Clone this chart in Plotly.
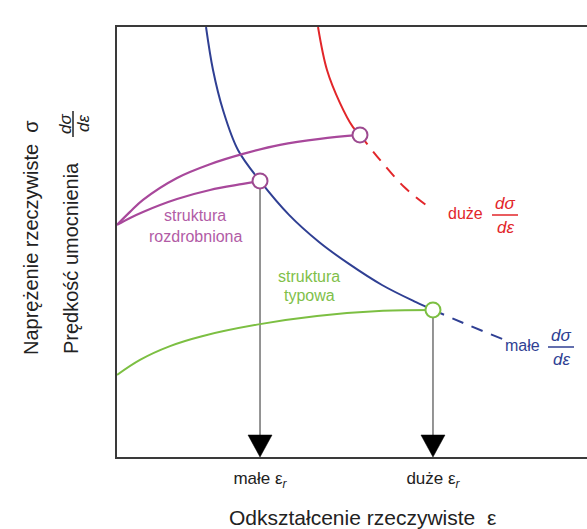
import plotly.graph_objects as go

# ---------------- data (strain units 0..10, stress/hardening units 0..10) ----------------
blue_x = [1.894, 2.043, 2.255, 2.574, 3.043, 3.660, 4.298, 4.936, 5.638, 6.362, 6.723]
blue_y = [10.0, 9.00, 8.07, 7.14, 6.42, 5.63, 5.00, 4.49, 4.00, 3.60, 3.42]
blue_dash_x = [6.723, 7.511, 8.213]
blue_dash_y = [3.42, 3.05, 2.74]

red_x = [4.277, 4.468, 4.745, 5.021, 5.170]
red_y = [10.0, 9.00, 8.23, 7.67, 7.49]
red_dash_x = [5.170, 5.596, 6.128, 6.660]
red_dash_y = [7.49, 6.91, 6.26, 5.79]

purple_up_x = [0.0, 0.277, 0.553, 1.277, 1.979, 2.681, 3.468, 4.319, 5.170]
purple_up_y = [5.40, 5.70, 5.98, 6.49, 6.81, 7.05, 7.26, 7.40, 7.49]
purple_low_x = [0.0, 0.277, 0.553, 1.277, 1.979, 2.681, 3.043]
purple_low_y = [5.40, 5.56, 5.70, 6.00, 6.21, 6.35, 6.42]

green_x = [0.0, 0.489, 1.128, 1.809, 3.043, 4.255, 5.660, 6.723]
green_y = [1.91, 2.26, 2.58, 2.81, 3.09, 3.28, 3.40, 3.42]

purple_circ_x = [3.043, 5.170]
purple_circ_y = [6.42, 7.49]
green_circ_x = [6.723]
green_circ_y = [3.42]

eps_r = [3.043, 6.723]
eps_r_y = [6.42, 3.42]
eps_r_labels = ["małe ε<sub><i>r</i></sub>", "duże ε<sub><i>r</i></sub>"]

# ---------------- style ----------------
W, H = 587, 529
L, R, T, B = 117, 0, 27, 72
PW, PH = W - L - R, H - T - B
XR, YR = [0, 10], [0, 10]
BLUE = "#2f3f93"
RED = "#e2262a"
PURPLE = "#a8489b"
PURPLE_TXT = "#b25ca6"
GREEN = "#7cbf42"
GREEN_TXT = "#7fbf4a"
GRAY = "#7a7a7a"
FONT = "Liberation Sans, Arial, sans-serif"

head_h = 22 * (YR[1] - YR[0]) / PH
head_hw = 12 * (XR[1] - XR[0]) / PW

fig = go.Figure()

# arrows to the strain axis
for xe, ye in zip(eps_r, eps_r_y):
    fig.add_trace(go.Scatter(x=[xe, xe], y=[ye, head_h], mode="lines",
                             line=dict(color=GRAY, width=1.6), hoverinfo="skip", showlegend=False))
    fig.add_trace(go.Scatter(x=[xe - head_hw, xe + head_hw, xe, xe - head_hw],
                             y=[head_h, head_h, 0, head_h], mode="lines", fill="toself",
                             fillcolor="black", line=dict(color="black", width=0.5),
                             hoverinfo="skip", showlegend=False))

def curve(x, y, color, dash="solid", width=2):
    fig.add_trace(go.Scatter(x=x, y=y, mode="lines",
                             line=dict(color=color, width=width, shape="spline", smoothing=1, dash=dash),
                             hoverinfo="skip", showlegend=False))

curve(blue_x, blue_y, BLUE)
curve(blue_dash_x, blue_dash_y, BLUE, dash="12px,9px")
curve(red_x, red_y, RED)
curve(red_dash_x, red_dash_y, RED, dash="12px,9px")
curve(purple_up_x, purple_up_y, PURPLE, width=2.2)
curve(purple_low_x, purple_low_y, PURPLE, width=2.2)
curve(green_x, green_y, GREEN)

fig.add_trace(go.Scatter(x=purple_circ_x, y=purple_circ_y, mode="markers",
                         marker=dict(size=15, color="white", line=dict(color="#9d4a90", width=2)),
                         hoverinfo="skip", showlegend=False))
fig.add_trace(go.Scatter(x=green_circ_x, y=green_circ_y, mode="markers",
                         marker=dict(size=15, color="white", line=dict(color=GREEN, width=2)),
                         hoverinfo="skip", showlegend=False))

# ---------------- text helpers (pixel placement of labels) ----------------
def px_x(xp):
    return (xp - L) / PW

def px_y(yp):
    return (H - B - yp) / PH

def label(text, xp, yp, size, color, angle=0, italic=False):
    if italic:
        text = "<i>" + text + "</i>"
    fig.add_annotation(x=px_x(xp), y=px_y(yp), xref="paper", yref="paper", text=text,
                       showarrow=False, textangle=angle, xanchor="center", yanchor="middle",
                       font=dict(family=FONT, size=size, color=color))

def bar(x0, y0, x1, y1, color):
    fig.add_shape(type="line", xref="paper", yref="paper",
                  x0=px_x(x0), y0=px_y(y0), x1=px_x(x1), y1=px_y(y1),
                  line=dict(color=color, width=1.5))

def frac_h(xc, yc, color, size=17):
    label("dσ", xc, yc - 11, size, color, italic=True)
    bar(xc - 13, yc + 1, xc + 13, yc + 1, color)
    label("dε", xc, yc + 13, size, color, italic=True)

# curve labels
label("struktura", 195, 216, 16, PURPLE_TXT)
label("rozdrobniona", 196, 236, 16, PURPLE_TXT)
label("struktura", 309, 276, 16, GREEN_TXT)
label("typowa", 309, 295, 16, GREEN_TXT)
label("duże", 465, 213, 16, RED)
frac_h(505, 214, RED)
label("małe", 522, 345, 16, BLUE)
frac_h(561, 346, BLUE)

# axis titles
label("Odkształcenie rzeczywiste  ε", 362, 517, 21, "#222222")
label("Naprężenie rzeczywiste  σ", 31, 238, 20, "#222222", angle=-90)
label("Prędkość umocnienia", 71, 258, 20, "#222222", angle=-90)
label("dσ", 65, 124, 17, "#222222", angle=-90, italic=True)
bar(73, 111, 73, 137, "#222222")
label("dε", 83, 124, 17, "#222222", angle=-90, italic=True)

fig.update_layout(
    width=W, height=H,
    margin=dict(l=L, r=R, t=T, b=B, pad=0),
    paper_bgcolor="white", plot_bgcolor="white",
    showlegend=False,
    font=dict(family=FONT),
    xaxis=dict(range=XR, showgrid=False, zeroline=False, showline=True, mirror=True,
               linecolor="#3a3a3a", linewidth=2, ticks="",
               tickvals=eps_r, ticktext=eps_r_labels,
               tickfont=dict(family=FONT, size=17, color="#222222"), ticklabelstandoff=5),
    yaxis=dict(range=YR, showgrid=False, zeroline=False, showline=True, mirror=False,
               linecolor="#3a3a3a", linewidth=2, ticks="", showticklabels=False),
)

fig.write_html("out.html")
